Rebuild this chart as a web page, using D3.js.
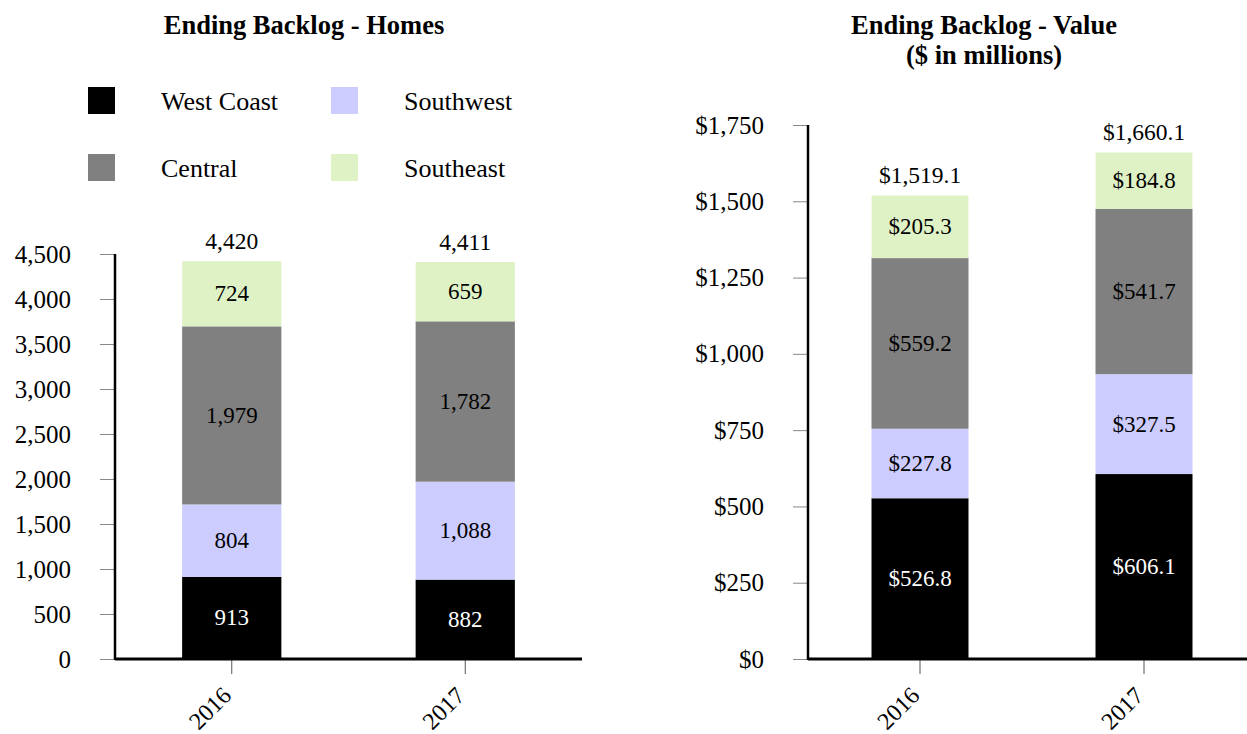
<!DOCTYPE html>
<html><head><meta charset="utf-8">
<script src="https://cdn.jsdelivr.net/npm/d3@7/dist/d3.min.js"></script>
<style>body{margin:0;background:#fff}svg{display:block}text{font-family:"Liberation Serif","Times New Roman",serif}</style>
</head><body>
<svg id="c" width="1247" height="734"></svg>
<script>
const years = ["2016", "2017"];
const regions = ["West Coast", "Southwest", "Central", "Southeast"];
const colors = ["#000000", "#ccccff", "#808080", "#dff2c6"];
const homesWestCoast = [913, 882];
const homesSouthwest = [804, 1088];
const homesCentral = [1979, 1782];
const homesSoutheast = [724, 659];
const homesTotals = [4420, 4411];
const valueWestCoast = [526.8, 606.1];
const valueSouthwest = [227.8, 327.5];
const valueCentral = [559.2, 541.7];
const valueSoutheast = [205.3, 184.8];
const valueTotals = [1519.1, 1660.1];
const homesTicks = [0, 500, 1000, 1500, 2000, 2500, 3000, 3500, 4000, 4500];
const valueTicks = [0, 250, 500, 750, 1000, 1250, 1500, 1750];

const svg = d3.select("#c");
const fmtInt = d3.format(",");
const fmtMoney = v => "$" + d3.format(",.1f")(v);
const fmtTick = v => "$" + d3.format(",")(v);

function drawChart(cfg) {
  const g = svg.append("g");
  const x = d3.scaleBand().domain(years).range([cfg.x0, cfg.x1]).paddingInner(cfg.pad).paddingOuter(cfg.pad / 2);
  const y = d3.scaleLinear().domain([0, cfg.max]).range([659, cfg.yTop]);
  const series = cfg.series;
  years.forEach((yr, i) => {
    let cum = 0;
    series.forEach((s, k) => {
      const v = s[i];
      const y0 = y(cum), y1 = y(cum + v);
      g.append("rect").attr("x", x(yr)).attr("width", x.bandwidth())
        .attr("y", y1).attr("height", y0 - y1).attr("fill", colors[k]);
      g.append("text").attr("x", x(yr) + x.bandwidth() / 2).attr("y", (y0 + y1) / 2)
        .attr("text-anchor", "middle").attr("dominant-baseline", "central")
        .attr("font-size", 23).attr("fill", k === 0 ? "#fff" : "#000")
        .text(cfg.fmt(v));
      cum += v;
    });
    g.append("text").attr("x", x(yr) + x.bandwidth() / 2).attr("y", y(cfg.totals[i]) - 20)
      .attr("text-anchor", "middle").attr("dominant-baseline", "central")
      .attr("font-size", 23.5).attr("fill", "#000").text(cfg.fmt(cfg.totals[i]));
  });
  const ya = g.append("g").attr("transform", `translate(${cfg.x0},0)`)
    .call(d3.axisLeft(y).tickValues(cfg.ticks).tickFormat(cfg.tickFmt).tickSize(15).tickPadding(29));
  ya.select(".domain").remove();
  ya.selectAll(".tick line").attr("stroke", "#888").attr("stroke-width", 1);
  ya.selectAll(".tick text").attr("font-size", 25).attr("font-family", "Liberation Serif").attr("fill", "#000");
  g.append("line").attr("x1", cfg.x0).attr("x2", cfg.x0).attr("y1", y(cfg.max)).attr("y2", 660)
    .attr("stroke", "#000").attr("stroke-width", 2.5);
  const xa = g.append("g").attr("transform", "translate(0,659)")
    .call(d3.axisBottom(x).tickSize(15).tickPadding(4));
  xa.select(".domain").remove();
  xa.selectAll(".tick line").attr("stroke", "#555").attr("stroke-width", 1);
  xa.selectAll(".tick text").attr("font-size", 24).attr("font-family", "Liberation Serif").attr("fill", "#000")
    .attr("text-anchor", "end").attr("x", 0).attr("y", 0).attr("dy", 0)
    .attr("transform", "translate(1,38) rotate(-45)");
  g.append("line").attr("x1", cfg.x0).attr("x2", cfg.axisEnd).attr("y1", 659).attr("y2", 659)
    .attr("stroke", "#000").attr("stroke-width", 3);
  cfg.title.forEach((t, j) => {
    g.append("text").attr("x", cfg.titleX).attr("y", cfg.titleY + j * 30).attr("text-anchor", "middle")
      .attr("font-size", 26.5).attr("font-weight", "bold").text(t);
  });
}

drawChart({
  x0: 115, x1: 582, axisEnd: 582, pad: 0.575, max: 4500, yTop: 254,
  series: [homesWestCoast, homesSouthwest, homesCentral, homesSoutheast],
  totals: homesTotals, fmt: fmtInt, ticks: homesTicks, tickFmt: fmtInt,
  title: ["Ending Backlog - Homes"], titleX: 304, titleY: 34
});
drawChart({
  x0: 808, x1: 1256, axisEnd: 1247, pad: 0.567, max: 1750, yTop: 125,
  series: [valueWestCoast, valueSouthwest, valueCentral, valueSoutheast],
  totals: valueTotals, fmt: fmtMoney, ticks: valueTicks, tickFmt: fmtTick,
  title: ["Ending Backlog - Value", "($ in millions)"], titleX: 984, titleY: 34
});

const leg = svg.append("g");
const legItems = [
  { k: 0, x: 88, y: 87 }, { k: 1, x: 331, y: 87 },
  { k: 2, x: 88, y: 154 }, { k: 3, x: 331, y: 154 }
];
legItems.forEach(it => {
  leg.append("rect").attr("x", it.x).attr("y", it.y).attr("width", 27).attr("height", 27).attr("fill", colors[it.k]);
  leg.append("text").attr("x", it.x + 73).attr("y", it.y + 14).attr("dominant-baseline", "central")
    .attr("font-size", 26).text(regions[it.k]);
});
</script>
</body></html>
